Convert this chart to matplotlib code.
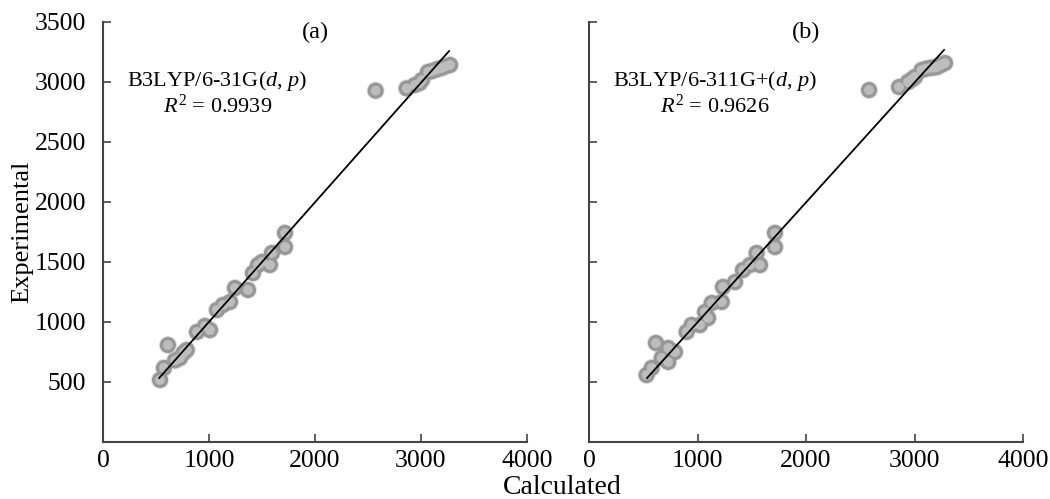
import numpy as np
import matplotlib
matplotlib.use('Agg')
import matplotlib.pyplot as plt

plt.rcParams['font.family'] = ['Liberation Serif', 'DejaVu Serif']
plt.rcParams['mathtext.fontset'] = 'custom'
plt.rcParams['mathtext.rm'] = 'Liberation Serif'
plt.rcParams['mathtext.it'] = 'Liberation Serif:italic'

# panel (a): B3LYP/6-31G(d, p)
calc_a = [538, 575, 612, 680, 726, 760, 790, 887, 962, 1009, 1075, 1132, 1198, 1245,
          1368, 1415, 1462, 1500, 1575, 1594, 1717, 1717, 2572, 2865, 2943, 2985, 3009,
          3066, 3100, 3132, 3165, 3195, 3230, 3274]
exp_a = [517, 617, 808, 680, 700, 742, 767, 917, 967, 933, 1100, 1142, 1167, 1283,
         1267, 1408, 1475, 1500, 1475, 1575, 1742, 1625, 2928, 2947, 2975, 2990, 3017,
         3083, 3090, 3100, 3110, 3117, 3130, 3142]
fit_a_x = [530, 3265]
fit_a_y = [533, 3258]

# panel (b): B3LYP/6-311G+(d, p)
calc_b = [531, 578, 617, 670, 730, 730, 792, 900, 946, 1023, 1069, 1097, 1131, 1223,
          1235, 1346, 1419, 1484, 1545, 1576, 1714, 1714, 2581, 2857, 2940, 2975, 3005,
          3066, 3105, 3143, 3175, 3207, 3240, 3281]
exp_b = [558, 617, 825, 700, 783, 667, 750, 917, 975, 975, 1083, 1033, 1158, 1167,
         1292, 1333, 1433, 1475, 1575, 1475, 1742, 1625, 2933, 2958, 3000, 3020, 3042,
         3100, 3110, 3117, 3120, 3125, 3140, 3158]
fit_b_x = [535, 3272]
fit_b_y = [533, 3267]

panels = [
    ('(a)', r'B3LYP/6-31G($\mathit{d}$, $\mathit{p}$)', r'$\mathit{R}^2$ = 0.9939',
     calc_a, exp_a, fit_a_x, fit_a_y),
    ('(b)', r'B3LYP/6-311G+($\mathit{d}$, $\mathit{p}$)', r'$\mathit{R}^2$ = 0.9626',
     calc_b, exp_b, fit_b_x, fit_b_y),
]

fig = plt.figure(figsize=(10.5, 4.99), dpi=100)
ax_a = fig.add_axes([103 / 1050, 57 / 499, 424 / 1050, 420 / 499])
ax_b = fig.add_axes([589 / 1050, 57 / 499, 434 / 1050, 420 / 499])

spine_col = '#444444'
for ax, (tag, method, r2, cx, ey, fx, fy) in zip([ax_a, ax_b], panels):
    # soft shaded spheres: shadow, body, highlight
    ax.scatter(cx, ey, s=170, color='#c8c8c8', edgecolor='none', alpha=0.5, zorder=1)
    ax.scatter(cx, ey, s=135, color='#979797', edgecolor='none', zorder=2)
    ax.scatter(cx, ey, s=50, color='#bdbdbd', edgecolor='none', zorder=3)
    ax.plot(fx, fy, color='black', linewidth=1.3, zorder=4)

    ax.set_xlim(0, 4000)
    ax.set_ylim(0, 3500)
    ax.set_xticks([0, 1000, 2000, 3000, 4000])
    ax.set_yticks([500, 1000, 1500, 2000, 2500, 3000, 3500])
    for s in ['top', 'right']:
        ax.spines[s].set_visible(False)
    for s in ['left', 'bottom']:
        ax.spines[s].set_color(spine_col)
        ax.spines[s].set_linewidth(1.5)
    ax.tick_params(direction='in', length=6, width=1.2, color=spine_col,
                   labelsize=18.5, pad=6)
    ax.tick_params(axis='y', pad=12)

    ax.text(0.5, 0.975, tag, transform=ax.transAxes, ha='center', va='center', fontsize=17.5)
    ax.text(0.27 if tag == '(a)' else 0.29, 0.86, method, transform=ax.transAxes,
            ha='center', va='center', fontsize=16)
    ax.text(0.27 if tag == '(a)' else 0.29, 0.80, r2, transform=ax.transAxes,
            ha='center', va='center', fontsize=16)

ax_b.tick_params(axis='y', labelleft=False)

fig.text(562 / 1050, 1 - 488 / 499, 'Calculated', ha='center', va='center', fontsize=20)
fig.text(22 / 1050, 1 - 232 / 499, 'Experimental', ha='center', va='center',
         rotation=90, fontsize=19)

fig.savefig('out.png', dpi=100)
